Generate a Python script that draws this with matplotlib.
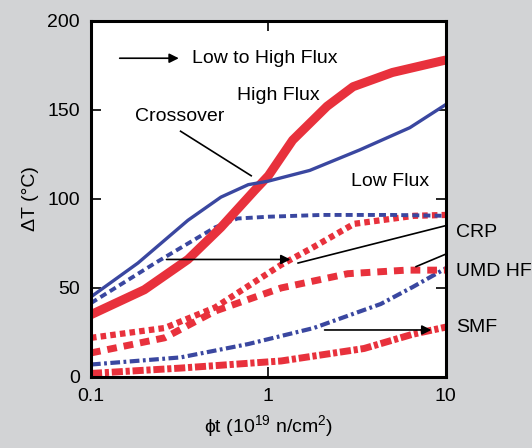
import numpy as np
import matplotlib
matplotlib.use('Agg')
import matplotlib.pyplot as plt
import matplotlib.transforms as mtransforms

plt.rcParams['font.family'] = ['Liberation Sans', 'DejaVu Sans']
plt.rcParams['lines.scale_dashes'] = False

RED = '#e8313c'
BLUE = '#3a47a0'
BG = '#d2d3d5'

# 読み取った値 (x: 10^19 n/cm2, y: degC)
low_x = [0.1, 0.184, 0.352, 0.54, 0.77, 1.0, 1.71, 3.27, 6.27, 10]
low_y = [45, 64, 88, 101, 108, 110, 116, 127.5, 140, 153]

high_x = [0.1, 0.2, 0.352, 0.54, 0.84, 1.0, 1.37, 2.14, 3.0, 5.0, 10]
high_y = [35, 49, 66, 84, 105, 113, 133, 152, 163, 171, 178]

crp_blue_x = [0.1, 0.23, 0.5, 0.67, 1.0, 2.0, 5.0, 10]
crp_blue_y = [41.5, 64, 84, 89, 90, 91, 91, 90.5]

crp_red_x = [0.1, 0.26, 0.5, 1.18, 1.8, 3.04, 6.6, 10]
crp_red_y = [22, 27.5, 39, 63, 73, 86, 90.5, 91]

umd_red_x = [0.1, 0.26, 0.5, 1.18, 2.8, 6.0, 10]
umd_red_y = [13.5, 22, 37, 50, 58, 60, 60]

umd_blue_x = [0.1, 0.32, 0.77, 1.8, 4.3, 6.5, 10]
umd_blue_y = [7, 11, 18.5, 27.5, 41, 50.5, 61]

smf_x = [0.1, 0.32, 1.18, 3.46, 6.5, 10]
smf_y = [2, 5, 9, 16, 24, 28]

fig = plt.figure(figsize=(5.32, 4.48), dpi=100, facecolor=BG)
ax = fig.add_axes([0.171, 0.1585, 0.667, 0.795])
ax.set_facecolor('white')

# 線
ax.plot(smf_x, smf_y, color=RED, lw=5.0, dashes=(8, 2, 3, 2), solid_capstyle='butt')
ax.plot(umd_blue_x, umd_blue_y, color=BLUE, lw=3.0, dashes=(7, 2.5, 2, 2.5))
ax.plot(umd_red_x, umd_red_y, color=RED, lw=5.0, dashes=(7, 5))
ax.plot(crp_red_x, crp_red_y, color=RED, lw=4.5, dashes=(4, 3))
ax.plot(crp_blue_x, crp_blue_y, color=BLUE, lw=2.8, dashes=(5, 3))
ax.plot(high_x, high_y, color=RED, lw=6.5, solid_capstyle='butt', solid_joinstyle='round')
ax.plot(low_x, low_y, color=BLUE, lw=2.4, solid_joinstyle='round')

ax.set_xscale('log')
ax.set_xlim(0.1, 10)
ax.set_ylim(0, 200)
ax.set_xticks([0.1, 1, 10])
ax.set_xticklabels(['0.1', '1', '10'])
ax.set_yticks([0, 50, 100, 150, 200])
ax.xaxis.set_minor_locator(matplotlib.ticker.NullLocator())
ax.tick_params(direction='in', length=7, width=1.2, labelsize=14,
               top=True, right=True, pad=8)
for s in ax.spines.values():
    s.set_linewidth(2.2)

ax.set_xlabel('ϕt (10$^{\\mathregular{19}}$ n/cm$^{\\mathregular{2}}$)', fontsize=14, labelpad=6)
ax.set_ylabel('ΔT (°C)', fontsize=14, labelpad=6)

# 注記
ax.annotate('', xy=(0.324, 179), xytext=(0.14, 179),
            arrowprops=dict(arrowstyle='-|>', color='black', lw=1.2, mutation_scale=14))
ax.text(0.37, 179, 'Low to High Flux', fontsize=14, va='center', ha='left')
ax.text(1.14, 158, 'High Flux', fontsize=14, va='center', ha='center')
ax.text(0.316, 146, 'Crossover', fontsize=14, va='center', ha='center')
ax.plot([0.32, 0.80], [138, 113], color='black', lw=1.2)
ax.text(4.84, 110, 'Low Flux', fontsize=14, va='center', ha='center')

ax.annotate('', xy=(1.38, 66), xytext=(0.257, 66),
            arrowprops=dict(arrowstyle='-|>', color='black', lw=1.2, mutation_scale=14))
ax.plot([1.47, 10], [64, 85], color='black', lw=1.2)
ax.plot([6.8, 10], [62, 69], color='black', lw=1.2)
ax.annotate('', xy=(8.6, 26.4), xytext=(2.0, 26.4),
            arrowprops=dict(arrowstyle='-|>', color='black', lw=1.2, mutation_scale=14))

trans = mtransforms.blended_transform_factory(ax.transAxes, ax.transData)
ax.text(1.03, 81, 'CRP', transform=trans, fontsize=14, va='center', ha='left')
ax.text(1.03, 59, 'UMD HF', transform=trans, fontsize=14, va='center', ha='left')
ax.text(1.03, 28, 'SMF', transform=trans, fontsize=14, va='center', ha='left')

fig.savefig('out.png', dpi=100, facecolor=BG)
